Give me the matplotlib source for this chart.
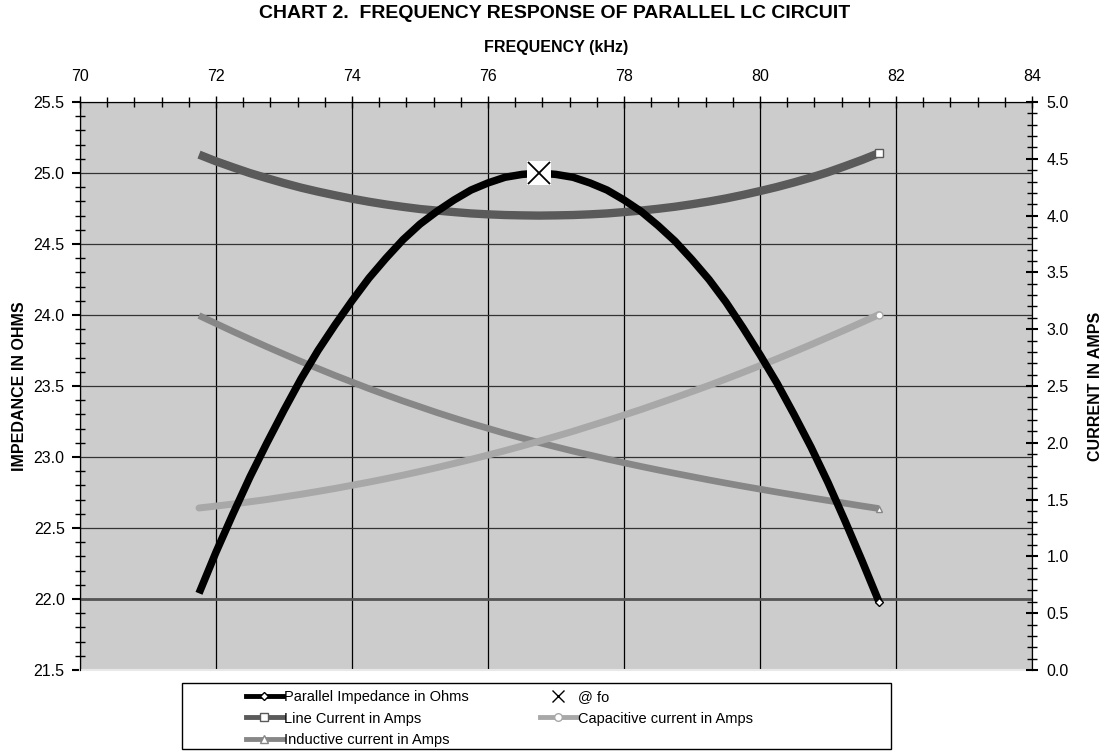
import matplotlib
matplotlib.use("Agg")
import matplotlib.pyplot as plt
from matplotlib.lines import Line2D
from matplotlib.patches import Rectangle
from matplotlib.ticker import MultipleLocator, FormatStrFormatter

plt.rcParams['font.family'] = ['Liberation Sans', 'DejaVu Sans']

# Данные (шаг 0.25 кГц)
freq_khz = [71.75, 72.00, 72.25, 72.50, 72.75, 73.00, 73.25, 73.50, 73.75, 74.00,
            74.25, 74.50, 74.75, 75.00, 75.25, 75.50, 75.75, 76.00, 76.25, 76.50,
            76.75, 77.00, 77.25, 77.50, 77.75, 78.00, 78.25, 78.50, 78.75, 79.00,
            79.25, 79.50, 79.75, 80.00, 80.25, 80.50, 80.75, 81.00, 81.25, 81.50, 81.75]
impedance = [22.04, 22.33, 22.60, 22.86, 23.10, 23.33, 23.55, 23.75, 23.93, 24.10,
             24.26, 24.40, 24.53, 24.64, 24.73, 24.81, 24.88, 24.93, 24.97, 24.99,
             25.00, 24.99, 24.97, 24.93, 24.88, 24.81, 24.73, 24.63, 24.52, 24.39,
             24.25, 24.09, 23.91, 23.72, 23.52, 23.30, 23.07, 22.82, 22.55, 22.27, 21.98]
line_current = [4.537, 4.478, 4.425, 4.374, 4.329, 4.286, 4.246, 4.211, 4.179, 4.149,
                4.122, 4.098, 4.077, 4.058, 4.044, 4.031, 4.019, 4.011, 4.005, 4.002,
                4.000, 4.002, 4.005, 4.011, 4.019, 4.031, 4.044, 4.060, 4.078, 4.100,
                4.124, 4.151, 4.182, 4.216, 4.252, 4.292, 4.335, 4.382, 4.435, 4.490, 4.550]
cap_current = [1.426, 1.443, 1.461, 1.481, 1.501, 1.524, 1.547, 1.572, 1.598, 1.626,
               1.654, 1.684, 1.715, 1.748, 1.782, 1.818, 1.854, 1.892, 1.931, 1.972,
               2.014, 2.057, 2.101, 2.148, 2.195, 2.244, 2.293, 2.345, 2.397, 2.451,
               2.505, 2.562, 2.620, 2.679, 2.739, 2.801, 2.864, 2.929, 2.994, 3.061, 3.129]
ind_current = [3.120, 3.050, 2.980, 2.912, 2.845, 2.780, 2.716, 2.654, 2.593, 2.535,
               2.477, 2.422, 2.368, 2.317, 2.266, 2.218, 2.171, 2.127, 2.083, 2.042,
               2.002, 1.964, 1.927, 1.892, 1.857, 1.824, 1.792, 1.761, 1.731, 1.702,
               1.673, 1.645, 1.618, 1.592, 1.566, 1.541, 1.516, 1.492, 1.468, 1.444, 1.421]
fo_khz = 76.75
fo_ohms = 25.0

W, H = 1113, 751
fig = plt.figure(figsize=(W / 100, H / 100), dpi=100)
ax = fig.add_axes([80 / W, 1 - 670 / H, 952 / W, 568 / H])
ax.set_facecolor('#cccccc')

# Левая ось - импеданс, верхняя ось - частота
ax.set_xlim(70, 84)
ax.set_ylim(21.5, 25.5)
ax.xaxis.tick_top()
ax.xaxis.set_label_position('top')
ax.xaxis.set_major_locator(MultipleLocator(2))
ax.xaxis.set_minor_locator(MultipleLocator(0.4))
ax.yaxis.set_major_locator(MultipleLocator(0.5))
ax.yaxis.set_minor_locator(MultipleLocator(0.1))
ax.yaxis.set_major_formatter(FormatStrFormatter('%.1f'))
ax.tick_params(axis='x', which='major', direction='inout', length=9, width=1, labelsize=11.5, pad=8.5)
ax.tick_params(axis='x', which='minor', direction='inout', length=7, width=1)
ax.tick_params(axis='y', which='major', direction='out', length=6, width=1.5, labelsize=11.5, pad=5)
ax.tick_params(axis='y', which='minor', direction='inout', length=7, width=1)
ax.grid(True, which='major', axis='x', color='black', linewidth=0.9)
ax.grid(True, which='major', axis='y', color='#333333', linewidth=0.9)
ax.axhline(22.0, color='#555555', linewidth=2)
ax.spines['bottom'].set_color('#e8e8e8')
ax.spines['bottom'].set_linewidth(1.5)
ax.set_xlabel('FREQUENCY (kHz)', fontsize=11.5, fontweight='bold', labelpad=12)
ax.set_ylabel('IMPEDANCE IN OHMS', fontsize=11.5, fontweight='bold', labelpad=5)

# Правая ось - токи
ax2 = ax.twinx()
ax2.set_ylim(0, 5)
ax2.yaxis.set_major_locator(MultipleLocator(0.5))
ax2.yaxis.set_minor_locator(MultipleLocator(0.1))
ax2.yaxis.set_major_formatter(FormatStrFormatter('%.1f'))
ax2.tick_params(axis='y', which='major', direction='inout', length=9, width=1.5, labelsize=11.5, pad=6)
ax2.tick_params(axis='y', which='minor', direction='inout', length=7, width=1)
ax2.spines['bottom'].set_visible(False)
ax2.set_ylabel('CURRENT IN AMPS', fontsize=11.5, fontweight='bold', labelpad=14)

ax2.plot(freq_khz, ind_current, color='#878787', linewidth=4.8, solid_capstyle='butt', solid_joinstyle='round',
         marker='^', markevery=[-1], markersize=5, markerfacecolor='white', markeredgecolor='#878787')
ax2.plot(freq_khz, cap_current, color='#a8a8a8', linewidth=5, solid_capstyle='round', solid_joinstyle='round',
         marker='o', markevery=[-1], markersize=5, markerfacecolor='white', markeredgecolor='#a8a8a8')
ax2.plot(freq_khz, line_current, color='#5a5a5a', linewidth=6, solid_capstyle='butt', solid_joinstyle='round',
         marker='s', markevery=[-1], markersize=5.5, markerfacecolor='white', markeredgecolor='#5a5a5a')

# Третья ось поверх - импеданс
ax3 = ax.twinx()
ax3.set_ylim(21.5, 25.5)
ax3.axis('off')
ax3.plot(freq_khz, impedance, color='black', linewidth=5.4, solid_capstyle='butt', solid_joinstyle='round',
         marker='D', markevery=[-1], markersize=4.5, markerfacecolor='white', markeredgecolor='black')
ax3.plot([fo_khz], [fo_ohms], marker='s', markersize=17, color='white', markeredgewidth=0, linestyle='none')
ax3.plot([fo_khz], [fo_ohms], marker='x', markersize=16, color='black', markeredgewidth=1.3, linestyle='none')

fig.text(555 / W, 1 - 14 / H, 'CHART 2.  FREQUENCY RESPONSE OF PARALLEL LC CIRCUIT',
         ha='center', va='center', fontsize=14, fontweight='bold')

# Легенда
handles = [
    Line2D([], [], color='black', linewidth=3.5, marker='D', markersize=4.5,
           markerfacecolor='white', markeredgecolor='black'),
    Line2D([], [], color='#5a5a5a', linewidth=3.5, marker='s', markersize=5.5,
           markerfacecolor='white', markeredgecolor='#5a5a5a'),
    Line2D([], [], color='#878787', linewidth=3.5, marker='^', markersize=5.5,
           markerfacecolor='white', markeredgecolor='#878787'),
    Line2D([], [], color='black', linestyle='none', marker='x', markersize=8, markeredgewidth=1),
    Line2D([], [], color='#a8a8a8', linewidth=3.5, marker='o', markersize=5.5,
           markerfacecolor='white', markeredgecolor='#a8a8a8'),
]
labels = ['Parallel Impedance in Ohms', 'Line Current in Amps', 'Inductive current in Amps',
          '@ fo', 'Capacitive current in Amps']
fig.patches.append(Rectangle((182 / W, 1 - 749 / H), 709 / W, 66 / H, transform=fig.transFigure,
                             facecolor='white', edgecolor='black', linewidth=1))
fig.legend(handles, labels, ncol=2, loc='upper left', bbox_to_anchor=(236 / W, 1 - 680 / H),
           frameon=False, fontsize=10.5, handlelength=2.5, handletextpad=0.1,
           columnspacing=4.85, labelspacing=0.5, borderpad=0.2)

fig.savefig('out.png', dpi=100)
